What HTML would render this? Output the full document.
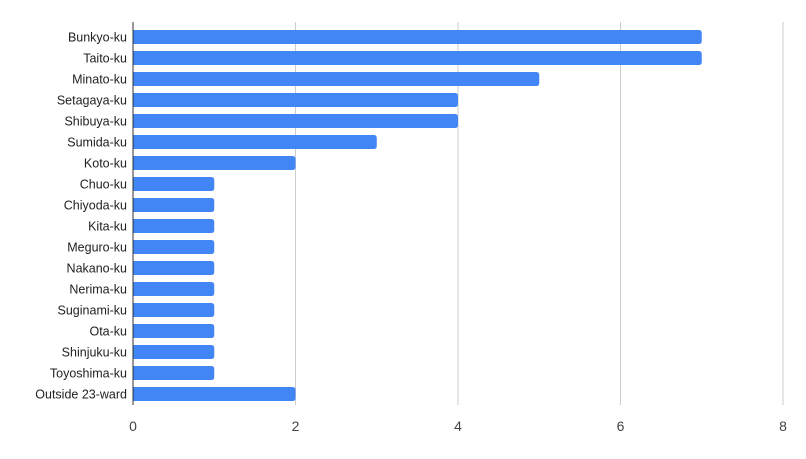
<!DOCTYPE html>
<html><head><meta charset="utf-8"><style>
body{margin:0;background:#fff;}
svg{display:block;font-family:"Liberation Sans",Arial,sans-serif;}
</style></head><body>
<svg id="chart" width="806" height="459" xmlns="http://www.w3.org/2000/svg">
<rect width="806" height="459" fill="#fff"/>
<g id="grid"></g>
<g id="bars"></g>
<g id="ylabels"></g>
<g id="xlabels"></g>
<line x1="133" y1="22" x2="133" y2="405" stroke="#333" stroke-width="1"/>
</svg>
<script>
const categories=["Bunkyo-ku","Taito-ku","Minato-ku","Setagaya-ku","Shibuya-ku","Sumida-ku","Koto-ku","Chuo-ku","Chiyoda-ku","Kita-ku","Meguro-ku","Nakano-ku","Nerima-ku","Suginami-ku","Ota-ku","Shinjuku-ku","Toyoshima-ku","Outside 23-ward"];
const values=[7,7,5,4,4,3,2,1,1,1,1,1,1,1,1,1,1,2];
const xTicks=[0,2,4,6,8];
const NS="http://www.w3.org/2000/svg";
const x=v=>133+v*81.25;
const y=i=>37+i*21;
function mk(tag,attrs,parent){const e=document.createElementNS(NS,tag);for(const k in attrs)e.setAttribute(k,attrs[k]);parent.appendChild(e);return e;}
const grid=document.getElementById('grid'),bars=document.getElementById('bars'),yl=document.getElementById('ylabels'),xl=document.getElementById('xlabels');
xTicks.forEach(t=>{
  if(t>0){const l=mk('line',{x1:x(t),x2:x(t),y1:22,y2:405,stroke:'#cccccc','stroke-width':1},grid);
  
  }
  const tx=mk('text',{x:x(t),y:431,'text-anchor':'middle','font-size':14,fill:'#444'},xl);
  tx.textContent=t;
  
  
});
categories.forEach((c,i)=>{
  const w=x(values[i])-x(0),h=14,top=y(i)-h/2,r=3;
  const p=mk('path',{d:`M${x(0)},${top}H${x(0)+w-r}Q${x(0)+w},${top} ${x(0)+w},${top+r}V${top+h-r}Q${x(0)+w},${top+h} ${x(0)+w-r},${top+h}H${x(0)}Z`,fill:'#4285f4'},bars);
  
  
  const t=mk('text',{x:127,y:y(i)+4.5,'text-anchor':'end','font-size':12.5,fill:'#222'},yl);
  t.textContent=c;
  
  
});
</script>
</body></html>
